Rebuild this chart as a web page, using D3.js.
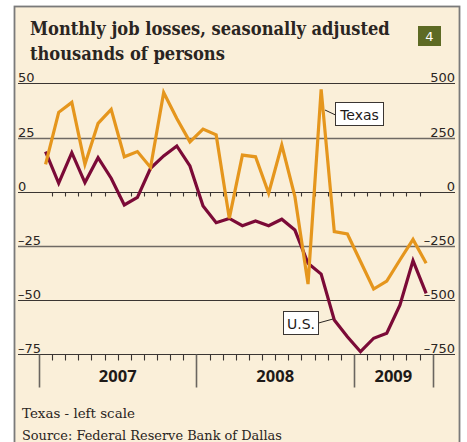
<!DOCTYPE html>
<html lang="en">
<head>
<meta charset="UTF-8">
<title>Monthly job losses</title>
<script src="https://d3js.org/d3.v7.min.js"></script>
<style>
  body { margin: 0; background: #fff; }
  svg { display: block; }
</style>
</head>
<body>
<div id="chart"></div>
<script>
// Jan 2007 - Jun 2009, monthly
const years = ["2007", "2008", "2009"];
const yearMonths = [12, 12, 6];
// Texas, thousands (left scale)
const texas = [12.6, 36.6, 41.2, 12.6, 31.5, 38, 16.1, 18.5, 11.2, 45.7, 33.8, 23,
               28.9, 26.2, -12.3, 16.9, 16.1, -0.7, 21.5, -2.3, -42.6, 47.2, -18.4, -19.5,
               -32.2, -44.9, -41.2, -31.5, -22, -33];
// U.S., thousands (right scale)
const us = [185, 39, 180, 42, 157, 62, -61, -26, 108, 165, 211, 119,
            -66, -143, -123, -157, -135, -157, -127, -177, -330, -380, -592, -669,
            -738, -676, -653, -523, -318, -469];
const leftTicks = [50, 25, 0, -25, -50, -75];
const rightTicks = [500, 250, 0, -250, -500, -750];

const width = 467, height = 442;
const svg = d3.select("#chart").append("svg")
    .attr("width", width).attr("height", height);

// panel
svg.append("rect")
    .attr("x", 14.5).attr("y", 6.5)
    .attr("width", 445).attr("height", 460)
    .attr("fill", "#faefd9")
    .attr("stroke", "#7a7a7a").attr("stroke-width", 1.8);

// text squeezed horizontally to a target width (condensed look)
const serif = "'DejaVu Serif', serif";
function squeezed(str, x0, y0, w, size, weight) {
    const t = svg.append("text")
        .attr("x", 0).attr("y", 0)
        .attr("font-family", serif).attr("font-weight", weight).attr("font-size", size)
        .attr("fill", "#2a2522")
        .text(str);
    const natural = t.node().getComputedTextLength();
    t.attr("transform", `translate(${x0},${y0}) scale(${w / natural},1)`);
    return t;
}

// title
squeezed("Monthly job losses, seasonally adjusted", 30, 34.5, 360, 18.5, "bold");
squeezed("thousands of persons", 30, 59.5, 195, 18.5, "bold");

// chart number badge
svg.append("rect")
    .attr("x", 418).attr("y", 26).attr("width", 23).attr("height", 20)
    .attr("fill", "#5d6a24");
svg.append("text")
    .attr("x", 429.5).attr("y", 41)
    .attr("text-anchor", "middle")
    .attr("font-family", "'DejaVu Sans', sans-serif").attr("font-size", 13)
    .attr("fill", "#fff")
    .text("4");

// scales
const plotLeft = 18, plotRight = 455;
const nMonths = d3.sum(yearMonths);
const x = d3.scaleLinear().domain([0, nMonths]).range([39, 432.7]);
const yL = d3.scaleLinear().domain([-75, 50]).range([354.3, 83.3]);
const yR = d3.scaleLinear().domain([-750, 500]).range([354.3, 83.3]);

// gridlines + labels
const grid = svg.append("g");
leftTicks.forEach((t, i) => {
    const y = Math.round(yL(t)) + 0.5;
    grid.append("line")
        .attr("x1", plotLeft).attr("x2", plotRight)
        .attr("y1", y).attr("y2", y)
        .attr("stroke", (t === 25 || t === -25) ? "#6f6a64" : "#3a3532")
        .attr("stroke-width", (t === 25 || t === -25) ? 1.6 : 1.1);
    grid.append("text")
        .attr("x", plotLeft).attr("y", y - 2)
        .attr("font-family", "'DejaVu Sans', sans-serif").attr("font-size", 13)
        .attr("fill", "#2a2522")
        .text(t < 0 ? "\u2013" + Math.abs(t) : t);
    const r = rightTicks[i];
    grid.append("text")
        .attr("x", plotRight).attr("y", y - 2)
        .attr("text-anchor", "end")
        .attr("font-family", "'DejaVu Sans', sans-serif").attr("font-size", 13)
        .attr("fill", "#2a2522")
        .text(r < 0 ? "\u2013" + Math.abs(r) : r);
});

// month ticks on zero line and bottom
const ticks = svg.append("g").attr("stroke", "#3a3532").attr("stroke-width", 1.1);
const yearStarts = [0];
yearMonths.forEach(m => yearStarts.push(yearStarts[yearStarts.length - 1] + m));
const y0 = Math.round(yL(0)) + 0.5;
const yB = Math.round(yL(-75)) + 0.5;
d3.range(1, nMonths).forEach(k => {
    const xx = Math.round(x(k)) + 0.5;
    ticks.append("line").attr("x1", xx).attr("x2", xx).attr("y1", y0).attr("y2", y0 + 4);
    if (!yearStarts.includes(k)) {
        ticks.append("line").attr("x1", xx).attr("x2", xx).attr("y1", yB).attr("y2", yB + 6);
    }
});
yearStarts.forEach(k => {
    const xx = Math.round(x(k)) + 0.5;
    ticks.append("line").attr("x1", xx).attr("x2", xx).attr("y1", yB).attr("y2", yB + 33)
        .attr("stroke", "#6a6560").attr("stroke-width", 1.6);
});
years.forEach((yr, i) => {
    svg.append("text")
        .attr("x", (x(yearStarts[i]) + x(yearStarts[i + 1])) / 2).attr("y", 381.5)
        .attr("text-anchor", "middle")
        .attr("font-family", "'Open Sans', sans-serif").attr("font-weight", "bold").attr("font-size", 16.5)
        .attr("fill", "#1e1a18")
        .text(yr);
});

// lines
const lineUS = d3.line().x((d, i) => x(i + 0.5)).y(d => yR(d));
const lineTX = d3.line().x((d, i) => x(i + 0.5)).y(d => yL(d));
svg.append("path").datum(us)
    .attr("d", lineUS).attr("fill", "none")
    .attr("stroke", "#7b0a37").attr("stroke-width", 3.2).attr("stroke-linejoin", "miter");
svg.append("path").datum(texas)
    .attr("d", lineTX).attr("fill", "none")
    .attr("stroke", "#e5961d").attr("stroke-width", 3.2).attr("stroke-linejoin", "miter");

// series labels
function callout(label, bx, by, bw, leader) {
    svg.append("line")
        .attr("x1", leader[0]).attr("y1", leader[1]).attr("x2", leader[2]).attr("y2", leader[3])
        .attr("stroke", "#2a2522").attr("stroke-width", 1);
    svg.append("rect")
        .attr("x", bx).attr("y", by).attr("width", bw).attr("height", 23)
        .attr("fill", "#fff").attr("stroke", "#3a3532").attr("stroke-width", 1);
    svg.append("text")
        .attr("x", bx + bw / 2).attr("y", by + 17)
        .attr("text-anchor", "middle")
        .attr("font-family", "'DejaVu Sans', sans-serif").attr("font-size", 14)
        .attr("fill", "#1e1a18")
        .text(label);
}
callout("Texas", 335.5, 102.5, 48, [325, 110, 335.5, 115]);
callout("U.S.", 283.5, 311.5, 35, [318.5, 323, 333, 319]);

// footnotes
squeezed("Texas - left scale", 22, 418, 113, 13.5, "normal");
squeezed("Source: Federal Reserve Bank of Dallas", 22, 439.5, 260, 13.5, "normal");
</script>
</body>
</html>
